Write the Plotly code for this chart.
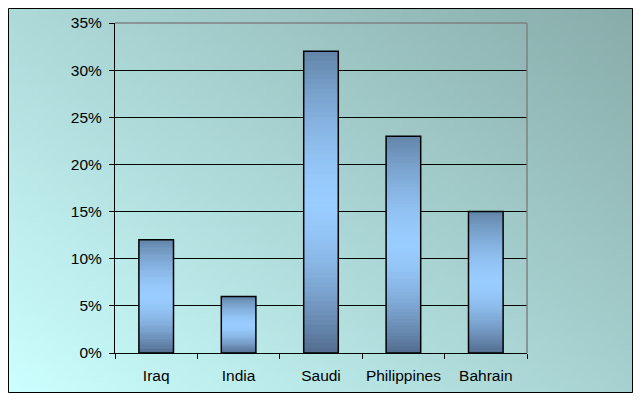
import base64, struct, zlib
import plotly.graph_objects as go

# ---- data ----
categories = ["Iraq", "India", "Saudi", "Philippines", "Bahrain"]
values = [0.12, 0.06, 0.32, 0.23, 0.15]
y_ticks = [0, 0.05, 0.10, 0.15, 0.20, 0.25, 0.30, 0.35]
y_tick_labels = ["0%", "5%", "10%", "15%", "20%", "25%", "30%", "35%"]

# ---- background gradient PNG (bottom-left light cyan -> top-right teal grey) ----
def make_png(w, h):
    bl = (204, 255, 255)
    tr = (136, 172, 170)
    rows = []
    for j in range(h):
        row = bytearray([0])
        for i in range(w):
            t = (i / (w - 1)) * 0.55 + ((h - 1 - j) / (h - 1)) * 0.45
            t = min(max(t, 0), 1)
            c = [int(round(bl[k] + (tr[k] - bl[k]) * t)) for k in range(3)]
            row += bytes(c)
        rows.append(bytes(row))
    raw = b"".join(rows)
    def chunk(tag, data):
        c = tag + data
        return struct.pack(">I", len(data)) + c + struct.pack(">I", zlib.crc32(c) & 0xffffffff)
    png = b"\x89PNG\r\n\x1a\n"
    png += chunk(b"IHDR", struct.pack(">IIBBBBB", w, h, 8, 2, 0, 0, 0))
    png += chunk(b"IDAT", zlib.compress(raw, 9))
    png += chunk(b"IEND", b"")
    return "data:image/png;base64," + base64.b64encode(png).decode()

bg = make_png(96, 60)

# page body has an 8px margin, so figure coords = page coords - 8
FW, FH = 633, 393
OFF = 8
L, R, T, B = 115 - OFF, 527 - OFF, 23 - OFF, 353 - OFF
W, H = R - L, B - T
def px(x): return (x - OFF - L) / W
def py(y): return (B - (y - OFF)) / H

fig = go.Figure()

# bar fill gradient along the bar length: dark bottom -> light middle -> dark top
N = 64
dark_bot = (82, 108, 142)
light = (153, 204, 255)
dark_top = (98, 132, 168)
peak = 0.5
def shade(t):
    if t < peak:
        s = t / peak
        a, b = dark_bot, light
        s = 1 - (1 - s) ** 1.6
    else:
        s = (t - peak) / (1 - peak)
        a, b = light, dark_top
        s = s ** 1.6
    return "rgb(%d,%d,%d)" % tuple(int(round(a[k] + (b[k] - a[k]) * s)) for k in range(3))

for k in range(N):
    t = (k + 0.5) / N
    fig.add_trace(go.Bar(x=categories, y=[v / N * 1.3 if k < N - 1 else v / N for v in values],
                         base=[v * k / N for v in values], width=0.42,
                         marker=dict(color=shade(t), line=dict(width=0)),
                         hoverinfo="skip", showlegend=False))
fig.add_trace(go.Bar(x=categories, y=values, width=0.42,
                     marker=dict(color="rgba(0,0,0,0)", line=dict(color="black", width=1.5)),
                     hoverinfo="skip", showlegend=False))

fig.update_layout(
    width=FW, height=FH,
    margin=dict(l=L, r=FW - R, t=T, b=FH - B),
    paper_bgcolor="white", plot_bgcolor="rgba(0,0,0,0)",
    barmode="overlay",
    font=dict(family="Liberation Sans, Arial, sans-serif", size=15.5, color="black"),
    xaxis=dict(showline=True, linecolor="black", linewidth=1, ticks="outside", ticklen=5,
               tickcolor="black", tickson="boundaries", showgrid=False, fixedrange=True,
               tickangle=0, automargin=False, ticklabelstandoff=8),
    yaxis=dict(range=[0, 0.35], tickvals=y_ticks, ticktext=y_tick_labels, showline=True,
               linecolor="black", linewidth=1, ticks="outside", ticklen=5, tickcolor="black",
               showgrid=True, gridcolor="black", gridwidth=1, zeroline=False, fixedrange=True,
               automargin=False, ticklabelstandoff=4),
    images=[dict(source=bg, xref="paper", yref="paper", x=px(8), y=py(8),
                 sizex=px(633) - px(8), sizey=py(8) - py(393), sizing="stretch",
                 xanchor="left", yanchor="top", layer="below")],
    shapes=[
        dict(type="rect", xref="paper", yref="paper", x0=px(8.5), x1=px(632.5), y0=py(392.5), y1=py(8.5),
             line=dict(color="black", width=1), layer="above"),
        dict(type="line", xref="paper", yref="paper", x0=0, x1=1, y0=1, y1=1,
             line=dict(color="#808080", width=1.5), layer="above"),
        dict(type="line", xref="paper", yref="paper", x0=1, x1=1, y0=0, y1=1,
             line=dict(color="#808080", width=1.5), layer="above"),
    ],
)

fig.write_html("out.html")
